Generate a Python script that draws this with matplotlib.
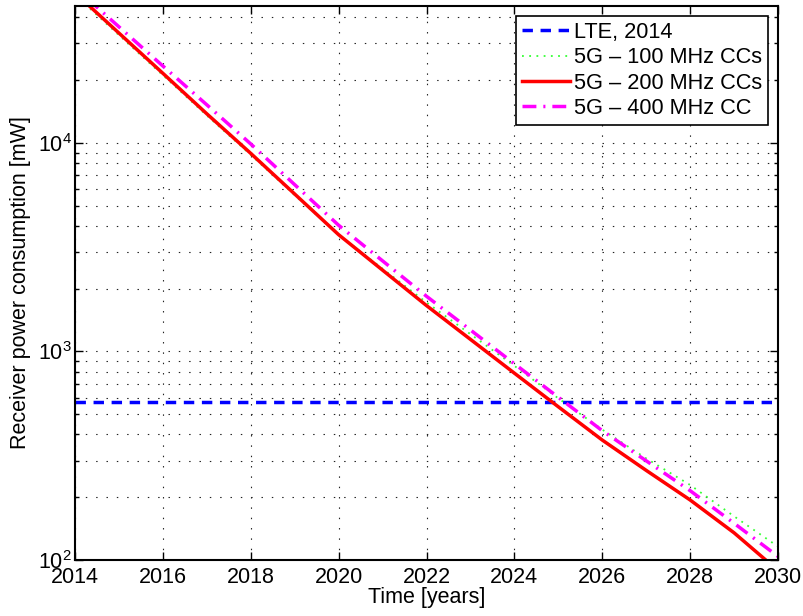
import numpy as np
import matplotlib
matplotlib.use('Agg')
import matplotlib.pyplot as plt
from matplotlib.ticker import LogLocator, FixedLocator

plt.rcParams['font.family'] = ['Liberation Sans', 'DejaVu Sans']
plt.rcParams['mathtext.default'] = 'regular'

# -----------------------------
# Data
# -----------------------------
years = list(range(2014, 2031))

lte_2014 = [575] * len(years)

cc_100 = [51290, 32890, 21130, 13550, 8770, 5620, 3630, 2495, 1718,
          1211, 853, 596, 422, 307, 229, 162, 116]
cc_200 = [52480, 33650, 21580, 13800, 8913, 5690, 3631, 2455, 1660,
          1143, 787, 543, 376, 269, 194, 135, 89]
cc_400 = [55600, 36060, 23390, 15240, 9890, 6310, 4030, 2720, 1840,
          1268, 873, 603, 417, 299, 215, 150, 104]

x_ticks = list(range(2014, 2031, 2))

# -----------------------------
# Plot
# -----------------------------
fs = 15.5
fig = plt.figure(figsize=(8.04, 6.16), dpi=100)
ax = fig.add_axes([0.0933, 0.0909, 0.8744, 0.8994])

ax.semilogy(years, lte_2014, color='#0000ff', linestyle=(0, (3, 2.2)), linewidth=2.5,
            label='LTE, 2014')
ax.semilogy(years, cc_100, color='#33ff33', linestyle=(0, (1, 3)), linewidth=1.3,
            label='5G – 100 MHz CCs')
ax.semilogy(years, cc_200, color='#ff0000', linestyle='-', linewidth=2.5,
            label='5G – 200 MHz CCs')
ax.semilogy(years, cc_400, color='#ff00ff', linestyle=(0, (4, 2, 0.6, 2)), linewidth=2.5,
            label='5G – 400 MHz CC')

ax.set_xlim(2014, 2030)
ax.set_ylim(100, 45400)
ax.xaxis.set_major_locator(FixedLocator(x_ticks))
ax.yaxis.set_major_locator(LogLocator(base=10))
ax.yaxis.set_minor_locator(LogLocator(base=10, subs=np.arange(2, 10)))
ax.yaxis.set_minor_formatter(plt.NullFormatter())

ax.grid(True, which='major', color='#222222', linestyle=(0, (1.3, 8)), linewidth=0.8)
ax.grid(True, which='minor', axis='y', color='#222222', linestyle=(0, (1.3, 8)),
        linewidth=0.8)

ax.tick_params(which='both', direction='in', top=True, right=True, labelsize=fs,
               width=1)
ax.tick_params(which='major', length=6, pad=2)
ax.tick_params(which='minor', length=3)
ax.tick_params(axis='x', pad=5)
for s in ax.spines.values():
    s.set_linewidth(1.5)

ax.set_xlabel('Time [years]', fontsize=fs, labelpad=-1)
ax.set_ylabel('Receiver power consumption [mW]', fontsize=fs)
ax.yaxis.set_label_coords(-0.063, 0.5)

leg = ax.legend(loc='upper right', fontsize=15.7, handlelength=2.2, handletextpad=0.2,
                borderpad=0.28, labelspacing=0.2, fancybox=False, framealpha=1,
                edgecolor='black', borderaxespad=0.45)
leg.get_frame().set_linewidth(1.2)

fig.savefig('out.png', dpi=100)
